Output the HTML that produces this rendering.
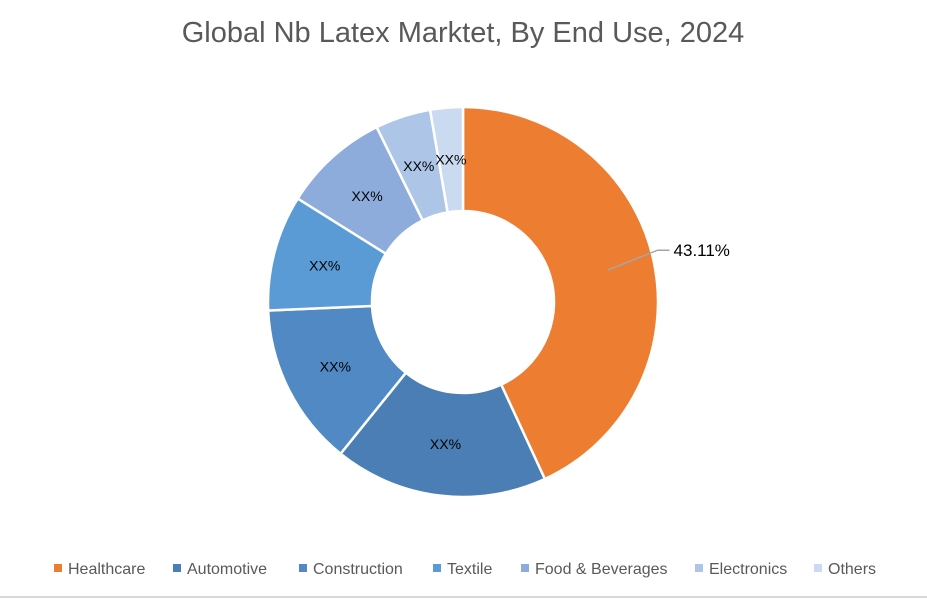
<!DOCTYPE html>
<html><head><meta charset="utf-8"><style>
body{margin:0;background:#fff;font-family:"Liberation Sans",Calibri,sans-serif;}
#wrap{position:relative;width:927px;height:600px;overflow:hidden;}
</style></head><body>
<div id="wrap">
<svg id="chart" width="927" height="600">
<text x="463" y="42" text-anchor="middle" font-size="29" fill="#595959">Global Nb Latex Marktet, By End Use, 2024</text>
<g id="slices"></g>
<g id="legend"></g>
<line x1="0" y1="597" x2="927" y2="597" stroke="#d9d9d9" stroke-width="2"/>
</svg>
</div>
<script>
const categories=["Healthcare","Automotive","Construction","Textile","Food & Beverages","Electronics","Others"];
const values=[43.11,17.7,13.5,9.6,8.8,4.6,2.7];
const labels=["43.11%","XX%","XX%","XX%","XX%","XX%","XX%"];
const colors=["#ED7D31","#4A7EB4","#5089C4","#5B9BD5","#8DABDB","#ADC6E8","#CADAF0"];
const ns="http://www.w3.org/2000/svg";
const cx=463,cy=302,R=195,r=91;
const total=values.reduce((a,b)=>a+b,0);
const sl=document.getElementById('slices');
function pt(a,rad){return [cx+rad*Math.sin(a),cy-rad*Math.cos(a)];}
let acc=0;
values.forEach((v,i)=>{
  const a0=acc/total*2*Math.PI;acc+=v;const a1=acc/total*2*Math.PI;
  const big=(a1-a0)>Math.PI?1:0;
  const [x0,y0]=pt(a0,R),[x1,y1]=pt(a1,R),[x2,y2]=pt(a1,r),[x3,y3]=pt(a0,r);
  const p=document.createElementNS(ns,'path');
  p.setAttribute('d',`M${x0},${y0}A${R},${R} 0 ${big} 1 ${x1},${y1}L${x2},${y2}A${r},${r} 0 ${big} 0 ${x3},${y3}Z`);
  p.setAttribute('fill',colors[i]);p.setAttribute('stroke','#fff');p.setAttribute('stroke-width','2.5');
  
  
  sl.appendChild(p);
  const am=(a0+a1)/2;
  const t=document.createElementNS(ns,'text');
  
  
  if(i===0){
    const [lx,ly]=pt(am,(R+r)/2+5);
    const l=document.createElementNS(ns,'path');
    l.setAttribute('d',`M${lx},${ly}L${lx+50},${ly-20}L${lx+62},${ly-20}`);
    l.setAttribute('stroke','#a6a6a6');l.setAttribute('fill','none');l.setAttribute('stroke-width','1.5');
    
    
    sl.appendChild(l);
    t.setAttribute('x',lx+66);t.setAttribute('y',ly-14);t.setAttribute('font-size','17');
  } else {
    const [lx,ly]=pt(am,(R+r)/2);
    t.setAttribute('x',lx);t.setAttribute('y',ly+5);t.setAttribute('text-anchor','middle');t.setAttribute('font-size','14');
  }
  t.setAttribute('fill','#000');t.textContent=labels[i];sl.appendChild(t);
});
const lg=document.getElementById('legend');
const lx=[54,173,299,433,521,695,814];
categories.forEach((c,i)=>{
  const g=document.createElementNS(ns,'g');
  
  
  const s=document.createElementNS(ns,'rect');
  s.setAttribute('x',lx[i]);s.setAttribute('y',564);s.setAttribute('width',8);s.setAttribute('height',8);s.setAttribute('fill',colors[i]);
  const t=document.createElementNS(ns,'text');
  t.setAttribute('x',lx[i]+14);t.setAttribute('y',574);t.setAttribute('font-size','16');t.setAttribute('fill','#595959');
  t.textContent=c;
  g.appendChild(s);g.appendChild(t);lg.appendChild(g);
});
</script>
</body></html>
